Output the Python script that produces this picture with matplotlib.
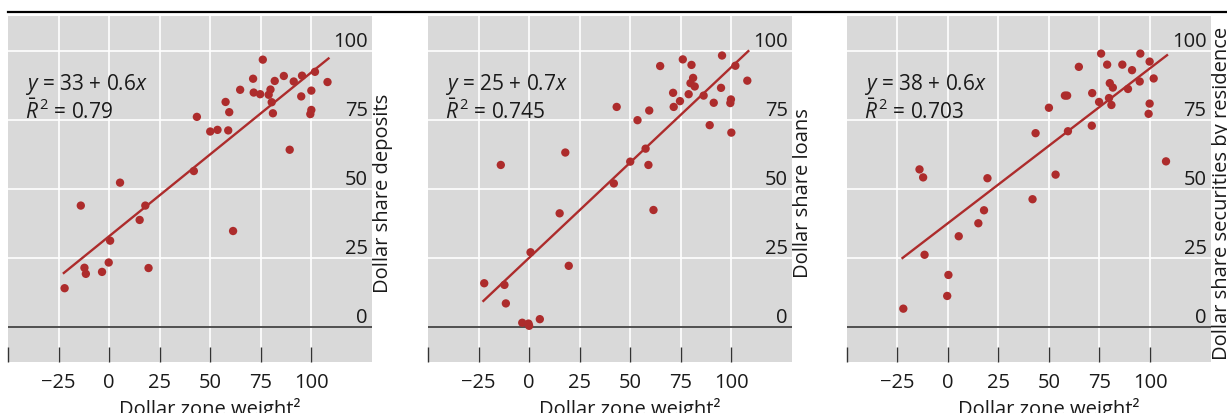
import matplotlib
matplotlib.use("Agg")
import matplotlib.pyplot as plt
from matplotlib.lines import Line2D
import numpy as np

plt.rcParams['font.family'] = ['Open Sans', 'DejaVu Sans']
plt.rcParams['mathtext.fontset'] = 'custom'
plt.rcParams['mathtext.rm'] = 'Open Sans'
plt.rcParams['mathtext.it'] = 'Open Sans:italic'

# ---------------- data ----------------
deposits_x = [-22.0, -14.0, -12.2, -11.5, -3.5, -0.2, 0.5, 5.4, 15.1, 17.9,
              19.5, 41.9, 43.4, 50.0, 53.6, 57.6, 58.9, 59.4, 61.3, 64.8,
              71.2, 71.5, 74.7, 76.0, 78.9, 79.8, 80.4, 81.0, 81.9, 86.4,
              89.3, 91.3, 95.0, 95.4, 100.0, 100.0, 99.5, 101.8, 108.0]
deposits_y = [14.2, 44.1, 21.6, 19.4, 20.1, 23.5, 31.4, 52.4, 38.9, 44.1,
              21.5, 56.6, 76.2, 70.9, 71.5, 81.6, 71.3, 77.9, 34.9, 86.0,
              90.0, 85.0, 84.4, 96.9, 84.2, 86.1, 81.5, 77.5, 89.2, 91.0,
              64.3, 89.0, 83.6, 91.1, 85.7, 78.7, 77.2, 92.5, 88.8]

loans_x = [-22.2, -14.0, -12.2, -11.5, -3.4, -0.3, 0.0, 0.7, 5.3, 15.1,
           17.9, 19.6, 41.9, 43.3, 50.0, 53.6, 57.6, 59.0, 59.4, 61.5,
           64.8, 71.2, 71.5, 74.6, 76.0, 78.9, 80.3, 79.8, 81.1, 81.9,
           86.3, 89.3, 91.3, 94.9, 95.4, 99.5, 99.8, 100.0, 102.0, 107.9]
loans_y = [16.0, 58.8, 15.4, 8.7, 1.7, 1.4, 0.6, 27.2, 3.0, 41.3,
           63.3, 22.3, 52.1, 79.8, 60.0, 75.0, 64.7, 58.8, 78.5, 42.5,
           94.6, 84.9, 79.8, 81.9, 97.0, 84.4, 95.0, 88.4, 90.3, 87.2,
           83.9, 73.2, 81.3, 86.7, 98.4, 81.2, 82.5, 70.5, 94.7, 89.3]

securities_x = [-22.0, -14.0, -12.2, -11.5, -0.3, 0.3, 5.4, 15.1, 17.9, 19.6,
                41.9, 43.4, 50.0, 53.3, 57.9, 59.0, 59.4, 64.8, 71.2, 71.4,
                74.8, 75.8, 78.8, 79.7, 80.1, 80.9, 81.6, 86.3, 89.1, 91.1,
                94.9, 95.2, 99.8, 99.8, 99.3, 101.8, 107.9]
securities_y = [6.8, 57.2, 54.3, 26.3, 11.4, 19.0, 33.0, 37.7, 42.4, 54.0,
                46.4, 70.3, 79.5, 55.3, 83.9, 83.9, 71.0, 94.3, 73.0, 84.8,
                81.6, 99.1, 95.1, 83.0, 88.4, 80.5, 86.8, 95.1, 86.3, 93.1,
                89.0, 99.1, 96.2, 81.0, 77.3, 90.1, 60.1]

fit_intercepts = [33.0, 25.2, 37.7]
fit_slopes = [0.593, 0.69, 0.561]
equation_labels = [r"$y$ = 33 + 0.6$x$", r"$y$ = 25 + 0.7$x$", r"$y$ = 38 + 0.6$x$"]
r2_labels = ["0.79", "0.745", "0.703"]
y_titles = ["Dollar share deposits", "Dollar share loans",
            "Dollar share securities by residence"]
x_title = "Dollar zone weight\u00b2"

x_ticks = [-50, -25, 0, 25, 50, 75, 100]
x_tick_labels = ["", "\u221225", "0", "25", "50", "75", "100"]
y_ticks = [0, 25, 50, 75, 100]
y_tick_labels = ["0", "25", "50", "75", "100"]

series = [(deposits_x, deposits_y), (loans_x, loans_y), (securities_x, securities_y)]

# ---------------- style ----------------
RED = '#ad2c2c'
BG = '#d9d9d9'
FS = 14.5

W, H = 1227, 414
fig = plt.figure(figsize=(W / 100, H / 100), dpi=100)

lefts = [8, 428, 846.7]
ax_w, ax_bottom, ax_top = 364, 363, 17

for i, (xs, ys) in enumerate(series):
    ax = fig.add_axes([lefts[i] / W, (H - ax_bottom) / H, ax_w / W, (ax_bottom - ax_top) / H])
    ax.set_facecolor(BG)
    for s in ax.spines.values():
        s.set_visible(False)
    ax.set_xlim(-50, 130)
    ax.set_ylim(-12.5, 112.7)

    # grid
    for gx in x_ticks[1:]:
        ax.axvline(gx, color='white', lw=1.2, zorder=1)
    for gy in y_ticks[1:]:
        ax.axhline(gy, color='white', lw=1.2, zorder=1)
    ax.axhline(0, color='#505050', lw=1.4, zorder=2)

    # x axis
    ax.set_xticks(x_ticks)
    ax.set_xticklabels(x_tick_labels, fontsize=FS, color='#1a1a1a')
    ax.tick_params(axis='x', direction='in', length=11, width=1.0, color='#333333', pad=7)
    ax.set_xlabel(x_title, fontsize=FS, color='#1a1a1a')
    ax.xaxis.set_label_coords(0.555, -0.1)

    # y axis: labels inside on right, above gridlines
    ax.set_yticks(y_ticks)
    ax.set_yticklabels(y_tick_labels, fontsize=FS, color='#1a1a1a')
    ax.tick_params(axis='y', left=False, labelleft=False, right=False, labelright=True,
                   length=0, pad=-3)
    for lab in ax.get_yticklabels():
        lab.set_horizontalalignment('right')
        lab.set_verticalalignment('bottom')

    ax.text(1.031, 0.49, y_titles[i], transform=ax.transAxes, rotation=90,
            ha='center', va='center', fontsize=FS, color='#1a1a1a')

    # scatter and fit
    ax.scatter(xs, ys, s=36, color=RED, edgecolors='none', zorder=4)
    xr = np.array([min(xs) - 0.4, max(xs) + 0.5])
    ax.plot(xr, fit_intercepts[i] + fit_slopes[i] * xr, color=RED, lw=1.7, zorder=3)

    ax.text(0.047, 0.805, equation_labels[i], transform=ax.transAxes,
            fontsize=FS + 0.5, color='#1a1a1a', va='center', ha='left')
    ax.text(0.047, 0.727, r"$\bar{R}^{\,2}$ = " + r2_labels[i], transform=ax.transAxes,
            fontsize=FS + 0.5, color='#1a1a1a', va='center', ha='left')

# top rule
fig.add_artist(Line2D([8 / W, 1.0], [1 - 13 / H, 1 - 13 / H], color='black', lw=1.6,
                      transform=fig.transFigure))

fig.savefig('out.png', dpi=100)
